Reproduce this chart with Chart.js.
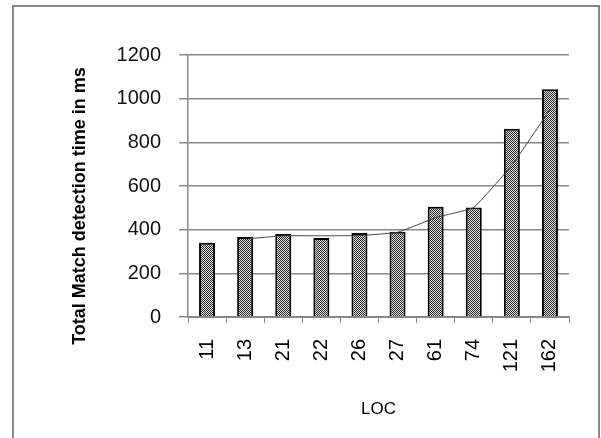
<!DOCTYPE html>
<html>
<head>
<meta charset="utf-8">
<script src="https://cdn.jsdelivr.net/npm/chart.js@4.4.1/dist/chart.umd.min.js"></script>
<style>
  body { margin: 0; background: #fff; }
  #wrap { position: relative; width: 601px; height: 438px; overflow: hidden; }
  #frame { position: absolute; left: 12px; top: 5px; width: 584px; height: 460px; border: 2px solid #888; }
  canvas { position: absolute; left: 0; top: 0; }
</style>
</head>
<body>
<div id="wrap">
  <div id="frame"></div>
  <canvas id="myChart" width="601" height="438"></canvas>
</div>
<script>
// values
const locs = ["11", "13", "21", "22", "26", "27", "61", "74", "121", "162"];
const matchTime = [340, 366, 380, 362, 385, 390, 505, 502, 862, 1043];
const trendTime = [null, 357, 372, 372, 373, 388, 455, 502, 695, 950];
const yTicks = [0, 200, 400, 600, 800, 1000, 1200];

function makePattern(){
  let c = document.createElement('canvas');
  c.width = 2; c.height = 2;
  let g = c.getContext('2d');
  g.fillStyle = '#e0e0e0';
  g.fillRect(0, 0, 2, 2);
  g.fillStyle = '#2a2a2a';
  g.fillRect(0, 0, 1, 1);
  g.fillRect(1, 1, 1, 1);
  return g.createPattern(c, 'repeat');
}

// y title drawn by hand so it sits where the original has it
const yTitle = {
  id: 'yTitle',
  afterDraw(chart){
    const ctx = chart.ctx;
    ctx.save();
    ctx.translate(80, 206);
    ctx.rotate(-Math.PI/2);
    ctx.font = 'bold 18px "Liberation Sans", Arial, sans-serif';
    ctx.fillStyle = '#000';
    ctx.textAlign = 'center';
    ctx.textBaseline = 'middle';
    ctx.fillText('Total Match detection time in ms', 0, 0);
    ctx.restore();
  }
};

const ctx = document.getElementById('myChart');

let myChart = new Chart(ctx, {
  type: 'bar',
  data: {
    labels: locs,
    datasets: [{
      type: 'line',
      data: trendTime,
      borderColor: '#444',
      borderWidth: 1,
      pointRadius: 0,
      tension: 0.1,
      fill: false,
      order: 0
    }, {
      data: matchTime,
      backgroundColor: makePattern(),
      borderColor: '#000',
      borderWidth: {left: 2, right: 2, top: 2, bottom: 0},
      borderSkipped: false,
      barPercentage: 0.42,
      categoryPercentage: 1,
      order: 1
    }]
  },
  options: {
    responsive: false,
    animation: false,
    layout: { padding: { left: 0, right: 32, top: 55, bottom: 0 } },
    plugins: {
      legend: { display: false },
      tooltip: { enabled: false }
    },
    scales: {
      x: {
        grid: {
          offset: true,
          drawOnChartArea: false,
          drawTicks: true,
          tickLength: 6,
          color: '#888'
        },
        border: { color: '#888', width: 2 },
        ticks: {
          minRotation: 90,
          maxRotation: 90,
          padding: 16,
          color: '#000',
          font: { family: '"Liberation Sans", Arial, sans-serif', size: 20 }
        },
        title: {
          display: true,
          text: 'LOC',
          color: '#000',
          padding: { top: 0, bottom: 18 },
          font: { family: '"Liberation Sans", Arial, sans-serif', size: 17 }
        },
        afterFit(scale){ scale.height = 121; }
      },
      y: {
        min: 0,
        max: 1200,
        afterBuildTicks(scale){ scale.ticks = yTicks.map(v => ({value: v})); },
        grid: { color: '#888', tickLength: 9, lineWidth: 1.5 },
        border: { color: '#888', width: 1.5 },
        ticks: {
          padding: 18,
          color: '#111',
          font: { family: '"Liberation Sans", Arial, sans-serif', size: 20 },
          callback: v => String(v)
        },
        afterFit(scale){ scale.width = 188; }
      }
    }
  },
  plugins: [yTitle]
});
</script>
</body>
</html>
